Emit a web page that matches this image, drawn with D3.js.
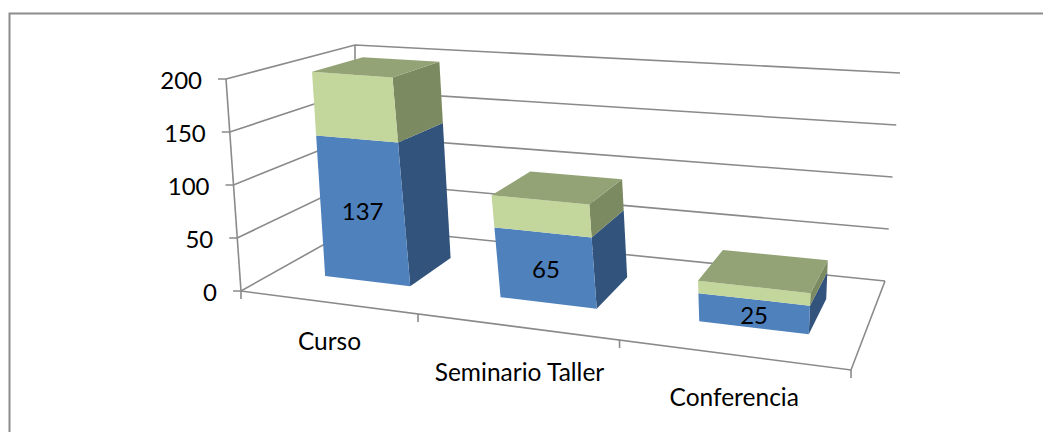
<!DOCTYPE html>
<html>
<head>
<meta charset="utf-8">
<script src="https://d3js.org/d3.v7.min.js"></script>
<style>
html, body { margin: 0; padding: 0; background: #fff; }
svg { display: block; }
text { font-family: Lato, "Open Sans", sans-serif; fill: #000; }
.wall { fill: none; stroke: #8a8a8a; stroke-width: 1.6; }
</style>
</head>
<body>
<svg id="chart" width="1043" height="432"></svg>
<script>
var categories = ["Curso", "Seminario Taller", "Conferencia"];
var blueValues = [137, 65, 25];
var greenValues = [62, 30, 11];
var valueTicks = [0, 50, 100, 150, 200];

// corners of the 3d box, as they land on the page
var floorQuad = [[241, 291], [851, 370], [885, 281], [355, 227]];
var topQuad = [[226, 79], [873, 130], [900, 73], [355, 45]];

// unit square to quad (a, b at w=0, c, d at w=1)
function quadMap(q)
{
	var x0 = q[0][0], y0 = q[0][1], x1 = q[1][0], y1 = q[1][1];
	var x2 = q[2][0], y2 = q[2][1], x3 = q[3][0], y3 = q[3][1];
	var dx1 = x1 - x2, dx2 = x3 - x2, sx = x0 - x1 + x2 - x3;
	var dy1 = y1 - y2, dy2 = y3 - y2, sy = y0 - y1 + y2 - y3;
	var den = dx1 * dy2 - dx2 * dy1;
	var g = (sx * dy2 - dx2 * sy) / den;
	var h = (dx1 * sy - sx * dy1) / den;
	var a = x1 - x0 + g * x1, b = x3 - x0 + h * x3;
	var d = y1 - y0 + g * y1, e = y3 - y0 + h * y3;
	return function(u, w)
	{
		var k = g * u + h * w + 1;
		return [(a * u + b * w + x0) / k, (d * u + e * w + y0) / k];
	};
}

var onFloor = quadMap(floorQuad);
var onTop = quadMap(topQuad);

var yScale = d3.scaleLinear().domain([0, 200]).range([0, 1]);
var uBand = d3.scaleBand().domain(categories).range([0.014, 1.006]).paddingInner(0.5).paddingOuter(0.25);
var uPoint = d3.scalePoint().domain(d3.range(categories.length + 1)).range([0, 1]);
var barDepth = [0.29, 0.70];
var labelNudge = [[-4, -2], [-2, 5], [-2, 2]];

function project(u, value, w)
{
	var a = onFloor(u, w), b = onTop(u, w), t = yScale(value);
	return [a[0] + (b[0] - a[0]) * t, a[1] + (b[1] - a[1]) * t];
}

var line = d3.line();
var svg = d3.select("#chart");

// outer frame, open on the right
svg.append("path")
	.attr("d", "M9.5,432V13.5H1043")
	.attr("fill", "none")
	.attr("stroke", "#8c8c8c")
	.attr("stroke-width", 2);

// walls
var walls = svg.append("g").attr("class", "walls");
valueTicks.forEach(function(v)
{
	var p = project(0, v, 0);
	walls.append("path").attr("class", "wall")
		.attr("d", line([[p[0] - 8, p[1]], p, project(0, v, 1), project(1, v, 1)]));
	walls.append("text")
		.attr("x", p[0] - 24)
		.attr("y", p[1] + 2)
		.attr("dy", "0.35em")
		.attr("text-anchor", "end")
		.attr("font-size", 24)
		.text(v);
});
walls.append("path").attr("class", "wall").attr("d", line([project(0, 0, 0), project(0, 200, 0)]));
walls.append("path").attr("class", "wall").attr("d", line([project(0, 0, 1), project(0, 200, 1)]));
walls.append("path").attr("class", "wall").attr("d", line([project(0, 0, 0), project(1, 0, 0), project(1, 0, 1)]));

uPoint.domain().forEach(function(i)
{
	var p = project(uPoint(i), 0, 0);
	walls.append("path").attr("class", "wall").attr("d", line([p, [p[0], p[1] + 8]]));
});

// bars
var barG = svg.selectAll("g.bar").data(categories).enter().append("g").attr("class", "bar");
barG.each(function(name, i)
{
	var g = d3.select(this);
	var u0 = uBand(name), u1 = u0 + uBand.bandwidth();
	var w0 = barDepth[0], w1 = barDepth[1];
	var v0 = blueValues[i], v1 = v0 + greenValues[i];

	function face(points, color)
	{
		g.append("path").attr("d", line(points) + "Z").attr("fill", color);
	}
	face([project(u1, 0, w0), project(u1, 0, w1), project(u1, v0, w1), project(u1, v0, w0)], "#32547c");
	face([project(u1, v0, w0), project(u1, v0, w1), project(u1, v1, w1), project(u1, v1, w0)], "#7c8a62");
	face([project(u0, 0, w0), project(u1, 0, w0), project(u1, v0, w0), project(u0, v0, w0)], "#4f81bd");
	face([project(u0, v0, w0), project(u1, v0, w0), project(u1, v1, w0), project(u0, v1, w0)], "#c3d69b");
	face([project(u0, v1, w0), project(u1, v1, w0), project(u1, v1, w1), project(u0, v1, w1)], "#93a376");

	var c = project((u0 + u1) / 2, v0 / 2, w0);
	g.append("text")
		.attr("x", c[0] + 1)
		.attr("y", c[1] + 2)
		.attr("dy", "0.35em")
		.attr("text-anchor", "middle")
		.attr("font-size", 24)
		.text(blueValues[i]);
});

// category labels
svg.selectAll("text.cat").data(categories).enter().append("text")
	.attr("class", "cat")
	.attr("x", function(name, i) { return project(uBand(name) + uBand.bandwidth() / 2, 0, 0)[0] + labelNudge[i][0]; })
	.attr("y", function(name, i) { return project(uBand(name) + uBand.bandwidth() / 2, 0, 0)[1] + 49 + labelNudge[i][1]; })
	.attr("text-anchor", "middle")
	.attr("font-size", 24.5)
	.text(function(name) { return name; });
</script>
</body>
</html>
